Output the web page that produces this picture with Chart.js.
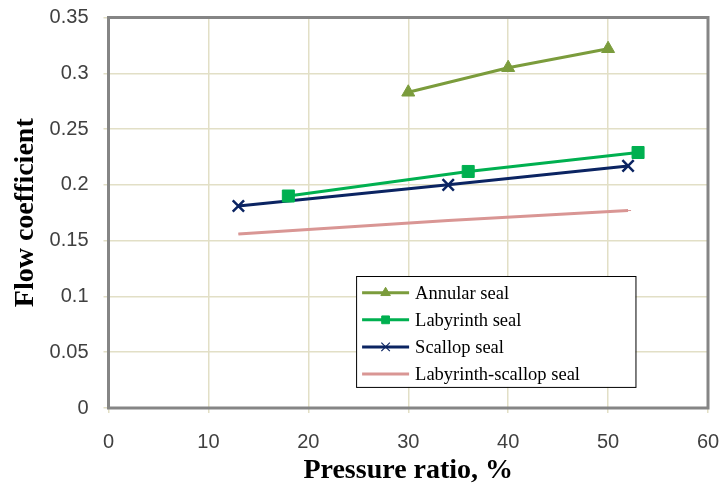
<!DOCTYPE html>
<html>
<head>
<meta charset="utf-8">
<script src="https://cdn.jsdelivr.net/npm/chart.js@4/dist/chart.umd.min.js"></script>
<style>
  html, body { margin: 0; padding: 0; background: #fff; }
  #wrap { width: 721px; height: 488px; }
</style>
</head>
<body>
<div id="wrap"><canvas id="flowChart" width="721" height="488"></canvas></div>
<script>
// values
const seriesNames = ['Annular seal', 'Labyrinth seal', 'Scallop seal', 'Labyrinth-scallop seal'];
const annularX = [30, 40, 50];
const annularY = [0.283, 0.305, 0.322];
const labyrinthX = [18, 36, 53];
const labyrinthY = [0.190, 0.212, 0.229];
const scallopX = [13, 34, 52];
const scallopY = [0.181, 0.200, 0.217];
const labScallopX = [13, 34, 52];
const labScallopY = [0.156, 0.168, 0.177];
const xTicks = [0, 10, 20, 30, 40, 50, 60];
const yTicks = [0, 0.05, 0.1, 0.15, 0.2, 0.25, 0.3, 0.35];

const pts = (xs, ys) => xs.map((x, i) => ({ x: x, y: ys[i] }));

const colors = ['#7b9c3c', '#00b050', '#0b2462', '#d99694'];
const styles = ['triangle', 'rect', 'crossRot', 'dash'];
const radii = [7.5, 8.5, 8, 3];

const datasets = [
  pts(annularX, annularY),
  pts(labyrinthX, labyrinthY),
  pts(scallopX, scallopY),
  pts(labScallopX, labScallopY)
].map((d, i) => ({
  label: seriesNames[i],
  data: d,
  borderColor: colors[i],
  backgroundColor: colors[i],
  borderWidth: 3,
  pointStyle: styles[i],
  pointRadius: radii[i],
  pointBorderWidth: i === 2 ? 2.5 : 1,
  tension: 0,
  fill: false
}));

// frame round the plot area plus an in-chart legend box
const frameAndLegend = {
  id: 'frameAndLegend',
  afterDraw(chart) {
    const ctx = chart.ctx;
    const a = chart.chartArea;
    ctx.save();
    ctx.strokeStyle = '#858585';
    ctx.lineWidth = 3;
    ctx.strokeRect(a.left, a.top, a.right - a.left, a.bottom - a.top);

    const w = a.right - a.left, h = a.bottom - a.top;
    const bx = a.left + w * 0.413, by = a.top + h * 0.662;
    const bw = w * 0.466, bh = h * 0.284;
    ctx.fillStyle = '#fff';
    ctx.fillRect(bx, by, bw, bh);
    ctx.strokeStyle = '#000';
    ctx.lineWidth = 1;
    ctx.strokeRect(bx + 0.5, by + 0.5, bw, bh);

    ctx.font = '18.5px "Liberation Serif", "Times New Roman", serif';
    ctx.textBaseline = 'middle';
    const rowH = bh / 4.1;
    chart.data.datasets.forEach((ds, i) => {
      const y = by + rowH * (i + 0.62);
      const x0 = bx + 6, x1 = bx + 53;
      ctx.strokeStyle = ds.borderColor;
      ctx.fillStyle = ds.backgroundColor;
      ctx.lineWidth = 3;
      ctx.beginPath();
      ctx.moveTo(x0, y);
      ctx.lineTo(x1, y);
      ctx.stroke();
      if (ds.pointStyle !== 'dash') {
        ctx.lineWidth = ds.pointStyle === 'crossRot' ? 1.2 : 1;
        Chart.helpers.drawPoint(ctx, {
          pointStyle: ds.pointStyle,
          radius: ds.pointStyle === 'crossRot' ? 6 : 5.5,
          borderWidth: ctx.lineWidth
        }, (x0 + x1) / 2, y);
      }
      ctx.fillStyle = '#000';
      ctx.fillText(ds.label, bx + 59, y + 1);
    });
    ctx.restore();
  }
};

new Chart(document.getElementById('flowChart').getContext('2d'), {
  type: 'line',
  data: { datasets: datasets },
  plugins: [frameAndLegend],
  options: {
    responsive: false,
    animation: false,
    layout: { padding: 0 },
    plugins: {
      legend: { display: false },
      tooltip: { enabled: false }
    },
    scales: {
      x: {
        type: 'linear',
        min: 0,
        max: 60,
        afterBuildTicks: s => { s.ticks = xTicks.map(v => ({ value: v })); },
        afterFit: s => { s.height = 80; s.paddingRight = 13; s.paddingLeft = 0; },
        grid: { color: '#e2dfc6', lineWidth: 1.5, tickLength: 5, drawTicks: true },
        border: { display: false },
        ticks: {
          color: '#404040',
          font: { family: '"Liberation Sans", Arial, sans-serif', size: 20 },
          padding: 17
        },
        title: {
          display: true,
          text: 'Pressure ratio, %',
          color: '#000',
          font: { family: '"Liberation Serif", "Times New Roman", serif', size: 28, weight: 'bold' },
          padding: { top: 0, bottom: 0 }
        }
      },
      y: {
        type: 'linear',
        min: 0,
        max: 0.35,
        afterBuildTicks: s => { s.ticks = yTicks.map(v => ({ value: v })); },
        afterFit: s => { s.width = 108.5; s.paddingTop = 17.5; s.paddingBottom = 0; },
        grid: { color: '#e2dfc6', lineWidth: 1.5, tickLength: 5, drawTicks: true },
        border: { display: false },
        ticks: {
          color: '#404040',
          font: { family: '"Liberation Sans", Arial, sans-serif', size: 20 },
          padding: 15,
          callback: v => String(+v.toFixed(2))
        },
        title: {
          display: true,
          text: 'Flow coefficient',
          color: '#000',
          font: { family: '"Liberation Serif", "Times New Roman", serif', size: 28, weight: 'bold' },
          padding: { top: 9, bottom: 0 }
        }
      }
    }
  }
});
</script>
</body>
</html>
